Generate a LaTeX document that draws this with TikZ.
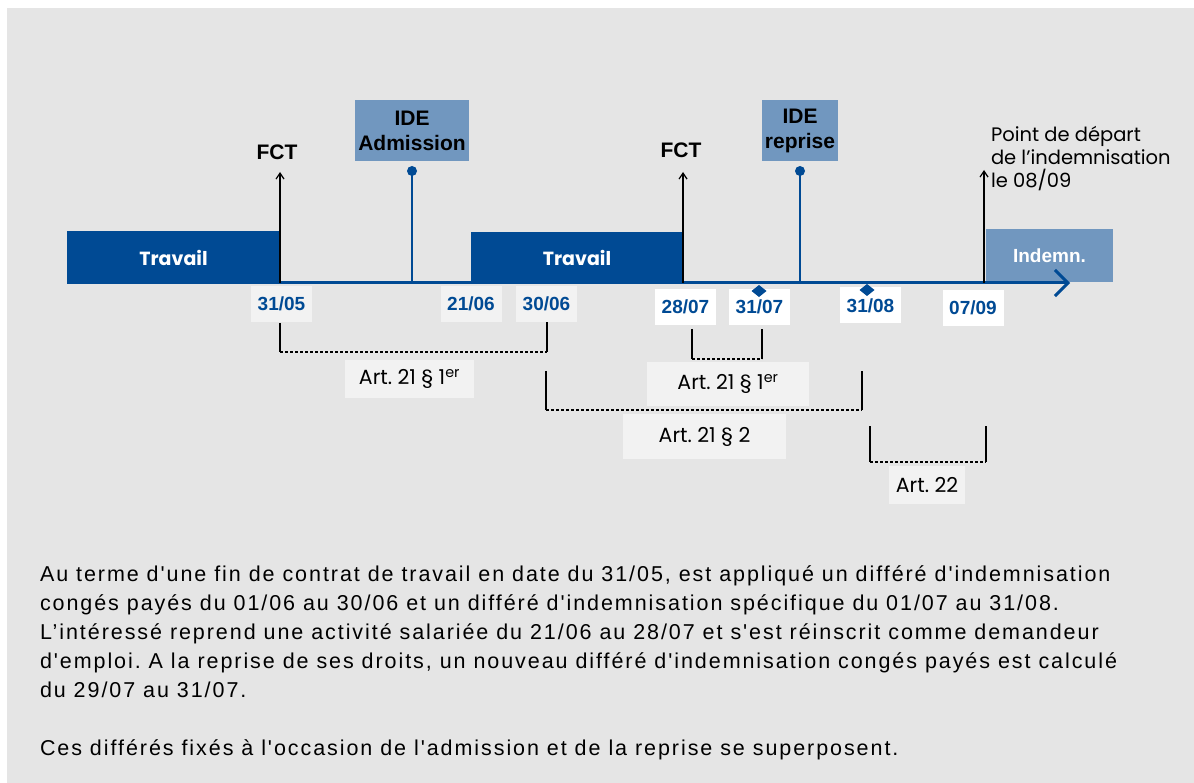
\documentclass[tikz,border=0pt]{standalone}
\usepackage{fontspec}
\setmainfont{Liberation Sans}[Ligatures=TeXOff]
\newfontfamily\bodyfont{Liberation Sans}[Ligatures=TeXOff,LetterSpace=9]
\newfontfamily\geo{Poppins}
\usetikzlibrary{arrows.meta,shapes.geometric}
\definecolor{dblue}{HTML}{004A94}
\definecolor{lblue}{HTML}{7197BF}
\definecolor{panel}{HTML}{E5E5E5}
\definecolor{lbox}{HTML}{F2F2F2}
\frenchspacing
\begin{document}
\begin{tikzpicture}[x=1pt,y=-1pt,
  every node/.style={inner sep=0pt, outer sep=0pt},
  bar/.style={fill=dblue, text=white, font=\geo\bfseries\fontsize{19}{21}\selectfont},
  ibar/.style={fill=lblue, text=white, font=\bfseries\fontsize{19}{22}\selectfont},
  idebox/.style={fill=lblue, text=black, align=center, font=\bfseries\fontsize{21}{25}\selectfont},
  ev/.style={text=black, font=\bfseries\fontsize{21}{25}\selectfont},
  datebox/.style={fill=lbox, text=dblue, minimum width=61, minimum height=36, font=\bfseries\fontsize{19}{22}\selectfont},
  datew/.style={datebox, fill=white},
  artbox/.style={fill=lbox, text=black, font=\geo\fontsize{20.5}{22}\selectfont},
  dot/.style={circle, fill=dblue, minimum size=10},
  diam/.style={diamond, fill=dblue, minimum width=15, minimum height=12, aspect=1.25},
  fctarrow/.style={draw=black, line width=2.6pt, -{Straight Barb[length=6pt,width=8pt,line width=1.2pt]}},
  stem/.style={draw=dblue, line width=2.6pt},
  axis/.style={draw=dblue, line width=3pt, -{Straight Barb[length=13pt,width=26pt,line width=3pt]}},
  bracketv/.style={draw=black, line width=2.6pt},
  brackh/.style={draw=black, line width=2.6pt, dash pattern=on 2.6pt off 2.4pt},
  body/.style={text=black, align=left, anchor=north west, font=\bodyfont\fontsize{21.5}{29}\selectfont}
]
\useasboundingbox (0,0) rectangle (1194,783);
\fill[white] (0,0) rectangle (1194,783);
\fill[panel] (7,8) rectangle (1194,783);

% work / indemnity bars
\node[bar, minimum width=213, minimum height=53] (t1) at (173.5,257.5) {Travail};
\node[bar, minimum width=212, minimum height=52] (t2) at (577,258) {\raisebox{-3pt}{Travail}};
\node[ibar, minimum width=127, minimum height=53] (ind) at (1049.5,255.5) {Indemn.};

% axis
\coordinate (ax0) at (280,283);
\coordinate (axE) at (1070,283);
\draw[axis] (ax0) -- (axE);

% FCT arrows
\coordinate (f1b) at (280,283);
\coordinate (f1t) at (280,172);
\draw[fctarrow] (f1b) -- (f1t);
\node[ev] (fct1) at (277,152) {FCT};
\coordinate (f2b) at (683,283);
\coordinate (f2t) at (683,172);
\draw[fctarrow] (f2b) -- (f2t);
\node[ev] (fct2) at (681,150) {FCT};
\coordinate (f3b) at (984,283);
\coordinate (f3t) at (984,170);
\draw[fctarrow] (f3b) -- (f3t);
\node[anchor=north west, align=left, font=\geo\fontsize{19.5}{23}\selectfont] (pdd) at (991,126.5)
  {Point de départ\\de l’indemnisation\\le 08/09};

% IDE boxes
\node[idebox, minimum width=114, minimum height=61] (ide1) at (412,130.5) {IDE\\Admission};
\node[idebox, minimum width=76, minimum height=61] (ide2) at (800,130.5) {IDE\\reprise};
\node[dot] (d1) at (412,171) {};
\node[dot] (d2) at (800,171) {};
\coordinate (s1) at (412,283);
\coordinate (s2) at (800,283);
\draw[stem] (d1.center) -- (s1);
\draw[stem] (d2.center) -- (s2);

% dates
\node[datebox] (d3105) at (281.5,304) {31/05};
\node[datebox] (d2106) at (471,304) {21/06};
\node[datebox] (d3006) at (546.5,304) {30/06};
\node[datew] (d2807) at (685.5,307) {28/07};
\node[datew] (d3107) at (759.5,307) {31/07};
\node[datew] (d3108) at (870.5,305.5) {31/08};
\node[datew] (d0709) at (973,308) {07/09};
\node[diam] (m1) at (759,291) {};
\node[diam] (m2) at (867,290) {};

% bracket 1
\coordinate (b1a) at (280,323);
\coordinate (b1b) at (280,352);
\coordinate (b1c) at (547,352);
\coordinate (b1d) at (547,322);
\draw[bracketv] (b1a) -- (b1b);
\draw[brackh] (b1b) -- (b1c);
\draw[bracketv] (b1c) -- (b1d);
\node[artbox, minimum width=129, minimum height=38] (art1) at (409.5,379) {Art. 21 § 1\textsuperscript{er}};

% bracket 2
\coordinate (b2a) at (692,329);
\coordinate (b2b) at (692,359);
\coordinate (b2c) at (762,359);
\coordinate (b2d) at (762,329);
\draw[bracketv] (b2a) -- (b2b);
\draw[brackh] (b2b) -- (b2c);
\draw[bracketv] (b2c) -- (b2d);
\node[artbox, minimum width=162, minimum height=44] (art2) at (728,384) {Art. 21 § 1\textsuperscript{er}};

% bracket 3
\coordinate (b3a) at (546,371);
\coordinate (b3b) at (546,410);
\coordinate (b3c) at (862,410);
\coordinate (b3d) at (862,371);
\draw[bracketv] (b3a) -- (b3b);
\draw[brackh] (b3b) -- (b3c);
\draw[bracketv] (b3c) -- (b3d);
\node[artbox, minimum width=163, minimum height=45] (art3) at (704.5,436.5) {Art. 21 § 2};

% bracket 4
\coordinate (b4a) at (870,426);
\coordinate (b4b) at (870,462);
\coordinate (b4c) at (986,462);
\coordinate (b4d) at (986,426);
\draw[bracketv] (b4a) -- (b4b);
\draw[brackh] (b4b) -- (b4c);
\draw[bracketv] (b4c) -- (b4d);
\node[artbox, minimum width=76, minimum height=38] (art4) at (927,485) {Art. 22};

% body text
\node[body] (p1) at (40,566) {Au terme d'une fin de contrat de travail en date du 31/05, est appliqué un différé d'indemnisation\\
congés payés du 01/06 au 30/06 et un différé d'indemnisation spécifique du 01/07 au 31/08.\\
L’intéressé reprend une activité salariée du 21/06 au 28/07 et s'est réinscrit comme demandeur\\
d'emploi. A la reprise de ses droits, un nouveau différé d'indemnisation congés payés est calculé\\
du 29/07 au 31/07.};
\node[body] (p2) at (40,740) {Ces différés fixés à l'occasion de l'admission et de la reprise se superposent.};
\end{tikzpicture}
\end{document}
